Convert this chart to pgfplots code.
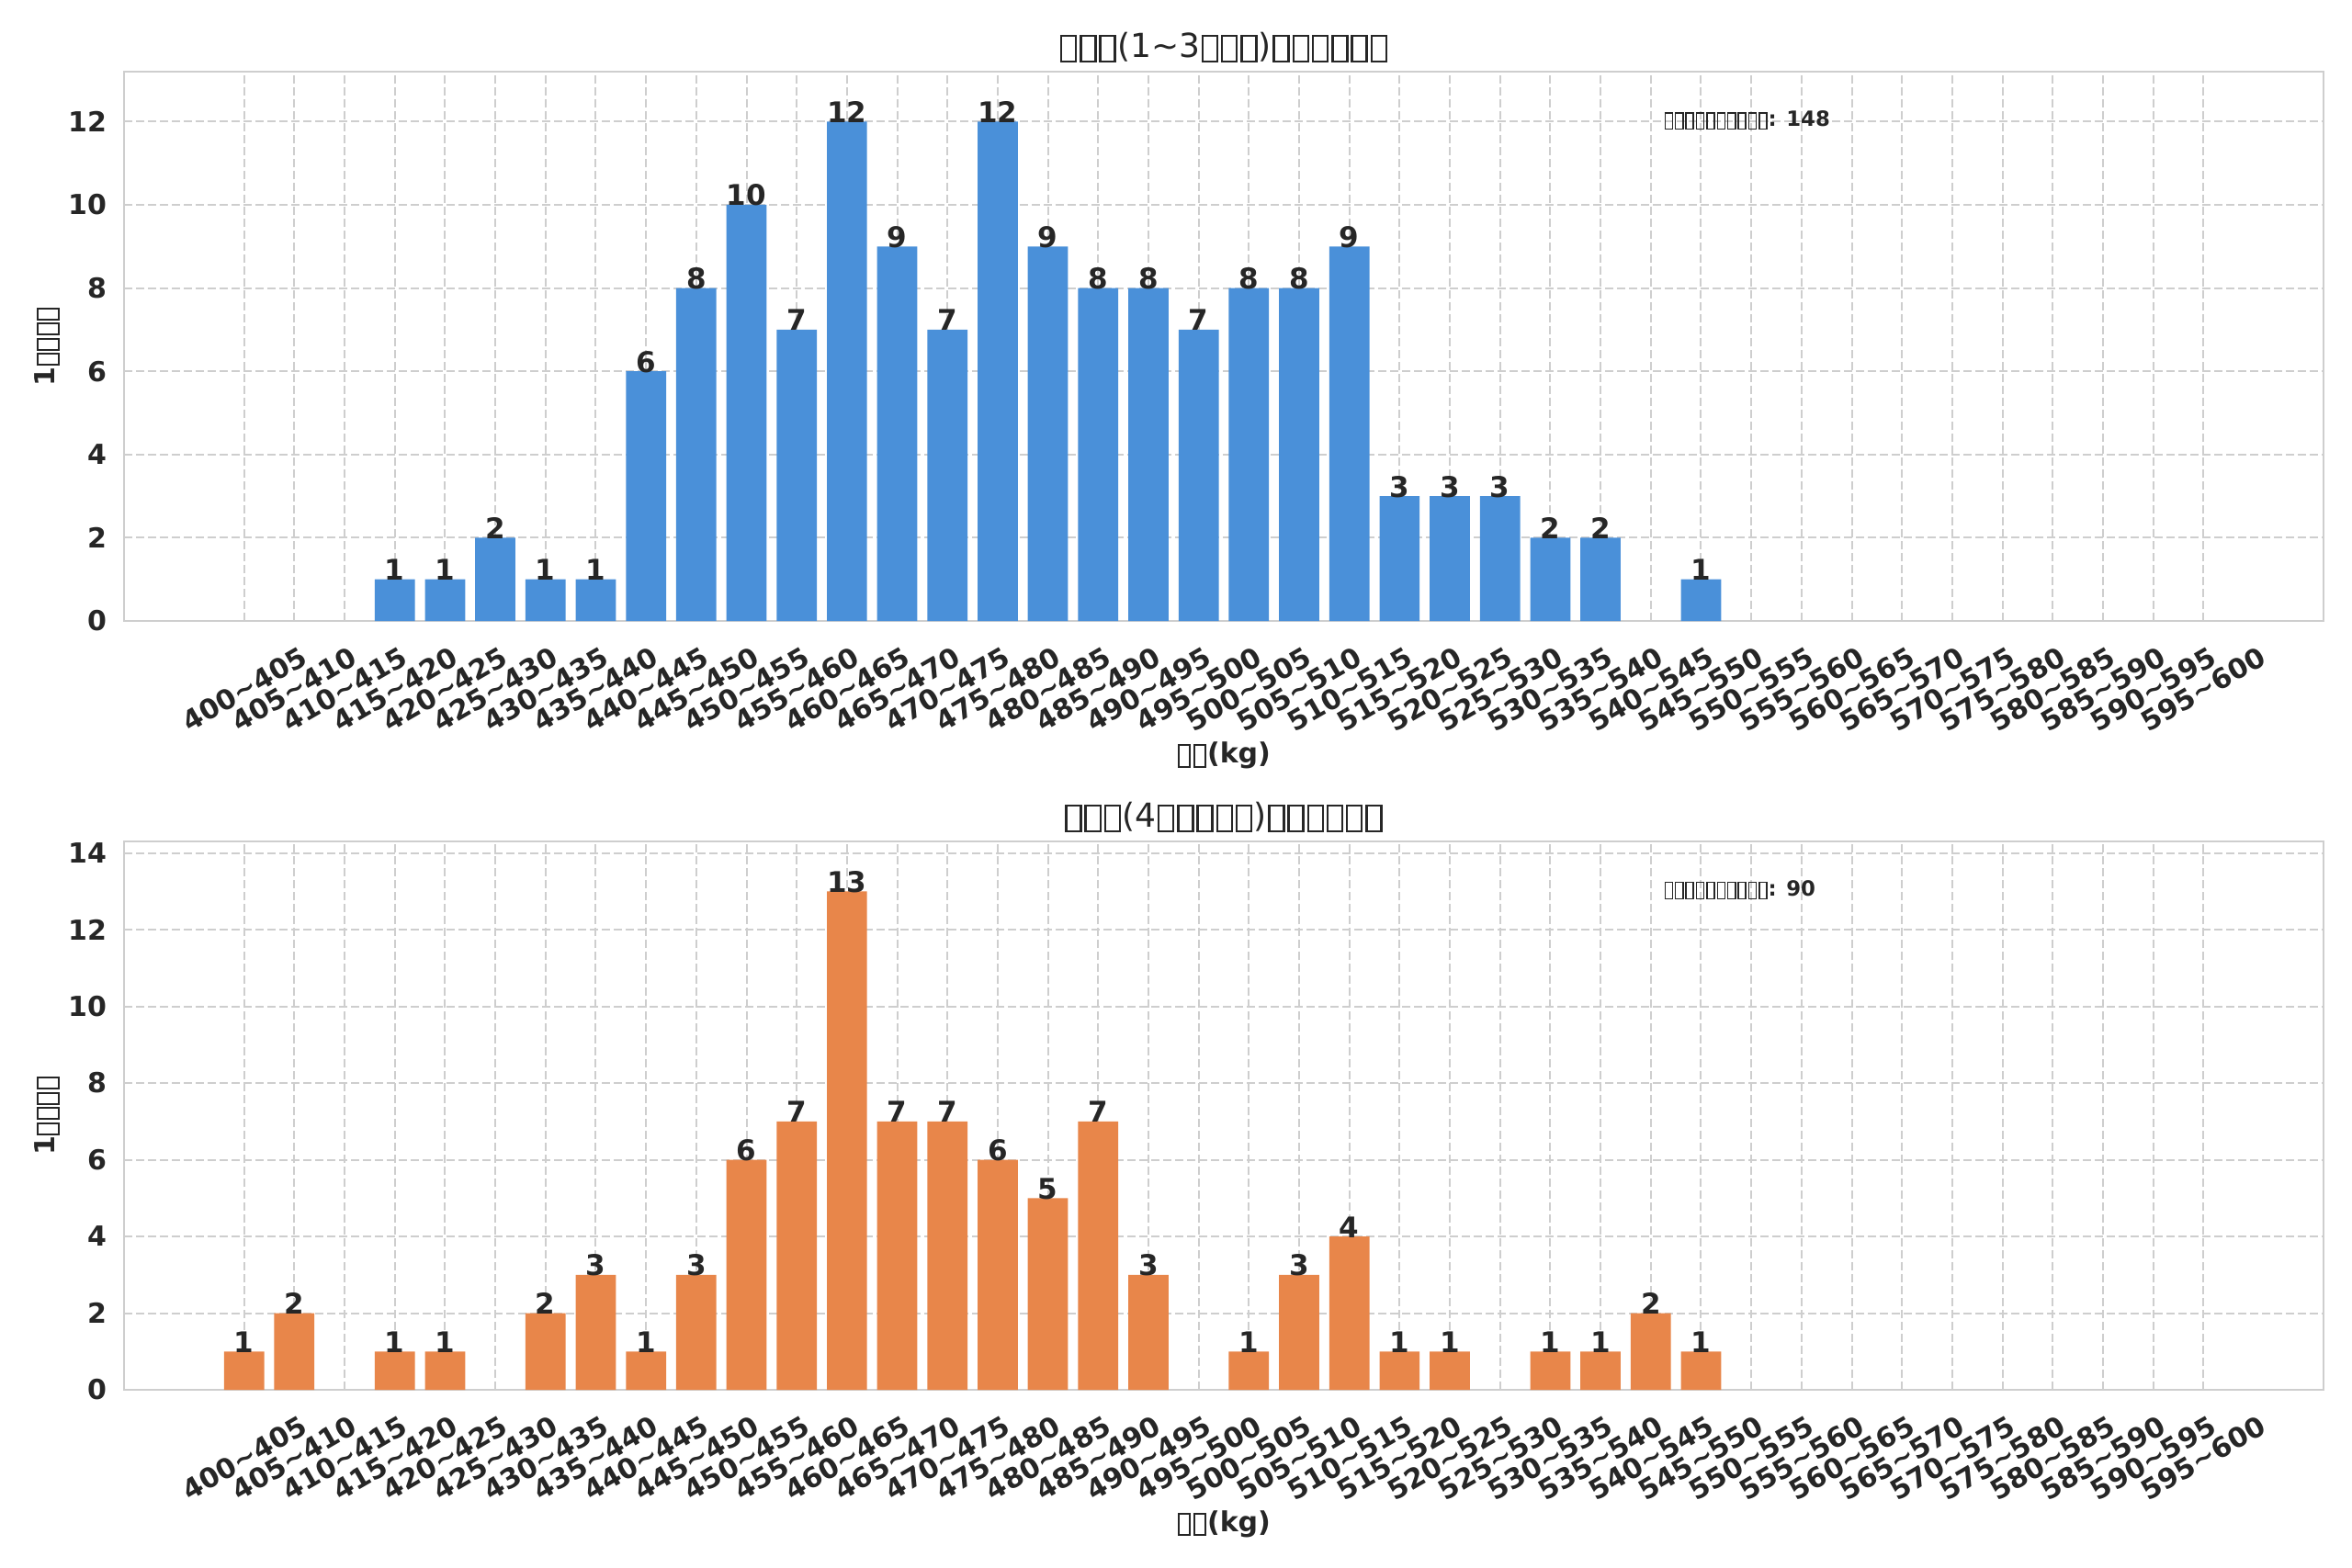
\documentclass[border=0pt]{standalone}
\usepackage{pgfplots}
\usepackage{pgfplotstable}
\pgfplotsset{compat=1.18}
\usepackage{fontspec}
\setmainfont{DejaVu Sans}
\definecolor{txt}{RGB}{38,38,38}
\definecolor{gridc}{RGB}{206,206,206}
\definecolor{barblue}{RGB}{74,144,217}
\definecolor{barorange}{RGB}{232,134,74}
% missing-glyph box (the original renders its CJK characters as empty boxes)
\newcommand\tofu[1][0.41]{\kern0.04em\raisebox{-0.11em}{\setlength{\fboxsep}{0pt}\setlength{\fboxrule}{0.065em}\fbox{\rule{0pt}{0.71em}\rule{\dimexpr#1em-0.21em\relax}{0pt}}}\kern0.04em}
\newcommand\tofus[2][0.41]{\foreach\i in {1,...,#2}{\tofu[#1]}}

\pgfplotstableread{
x y
3 1
4 1
5 2
6 1
7 1
8 6
9 8
10 10
11 7
12 12
13 9
14 7
15 12
16 9
17 8
18 8
19 7
20 8
21 8
22 9
23 3
24 3
25 3
26 2
27 2
29 1
}\younger

\pgfplotstableread{
x y
0 1
1 2
3 1
4 1
6 2
7 3
8 1
9 3
10 6
11 7
12 13
13 7
14 7
15 6
16 5
17 7
18 3
20 1
21 3
22 4
23 1
24 1
26 1
27 1
28 2
29 1
}\older

\pgfplotsset{hist/.style={
  width=1197pt, scale only axis,
  xmin=-2.39, xmax=41.39, ymin=0,
  axis line style={gridc, line width=1pt},
  xtick={0,...,39},
  xticklabel={\pgfmathtruncatemacro\lo{400+5*\tick}\pgfmathtruncatemacro\hi{\lo+5}\lo\textasciitilde\hi},
  major tick length=0pt,
  /pgf/number format/assume math mode=true,
  grid=major,
  grid style={gridc, line width=1pt, dash pattern=on 4.5pt off 2pt},
  tick label style={font=\bfseries\fontsize{15}{18}\selectfont, text=txt},
  xticklabel style={anchor=center, rotate=30},
  xticklabel shift=37pt,
  yticklabel style={xshift=-6pt},
  ybar, bar width=0.8,
  nodes near coords,
  every node near coord/.append style={font=\bfseries\fontsize{15.5}{18}\selectfont, text=txt, anchor=base, inner sep=0pt, yshift=-0.5pt},
  every axis title shift=0pt,
  title style={at={(axis description cs:0.5,1)}, anchor=base, yshift=8pt, font=\fontsize{18}{21}\selectfont, text=txt},
  every axis x label/.style={at={(axis description cs:0.5,-0.2445)}, anchor=center, font=\bfseries\fontsize{15}{18}\selectfont, text=txt},
  every axis y label/.style={at={(axis description cs:-0.035,0.5)}, anchor=center, rotate=90, font=\bfseries\fontsize{15}{18}\selectfont, text=txt},
  xlabel={\tofus[0.55]{2}(kg)},
  ylabel={1\tofus[0.55]{4}},
}}

\begin{document}
\begin{tikzpicture}
\useasboundingbox (0,0) rectangle (1280pt,-853.5pt);
\begin{axis}[hist,
  at={(67.5pt,-338pt)}, anchor=south west,
  height=299pt, ymax=13.2, ytick={0,2,...,12},
  title={\tofus[0.59]{3}(1\textasciitilde3\tofus[0.59]{3})\tofus[0.59]{6}},
]
\addplot[fill=barblue, draw=none] table[x=x, y=y] {\younger};
\node[anchor=base west, font=\bfseries\fontsize{11.4}{13}\selectfont, text=txt] at (rel axis cs:0.697,0.901) {\tofus[0.5]{10}: 148};
\end{axis}
\begin{axis}[hist,
  at={(67.5pt,-756.5pt)}, anchor=south west,
  height=298.5pt, ymax=14.3, ytick={0,2,...,14},
  title={\tofus[0.59]{3}(4\tofus[0.59]{5})\tofus[0.59]{6}},
]
\addplot[fill=barorange, draw=none] table[x=x, y=y] {\older};
\node[anchor=base west, font=\bfseries\fontsize{11.4}{13}\selectfont, text=txt] at (rel axis cs:0.697,0.901) {\tofus[0.5]{10}: 90};
\end{axis}
\end{tikzpicture}
\end{document}
